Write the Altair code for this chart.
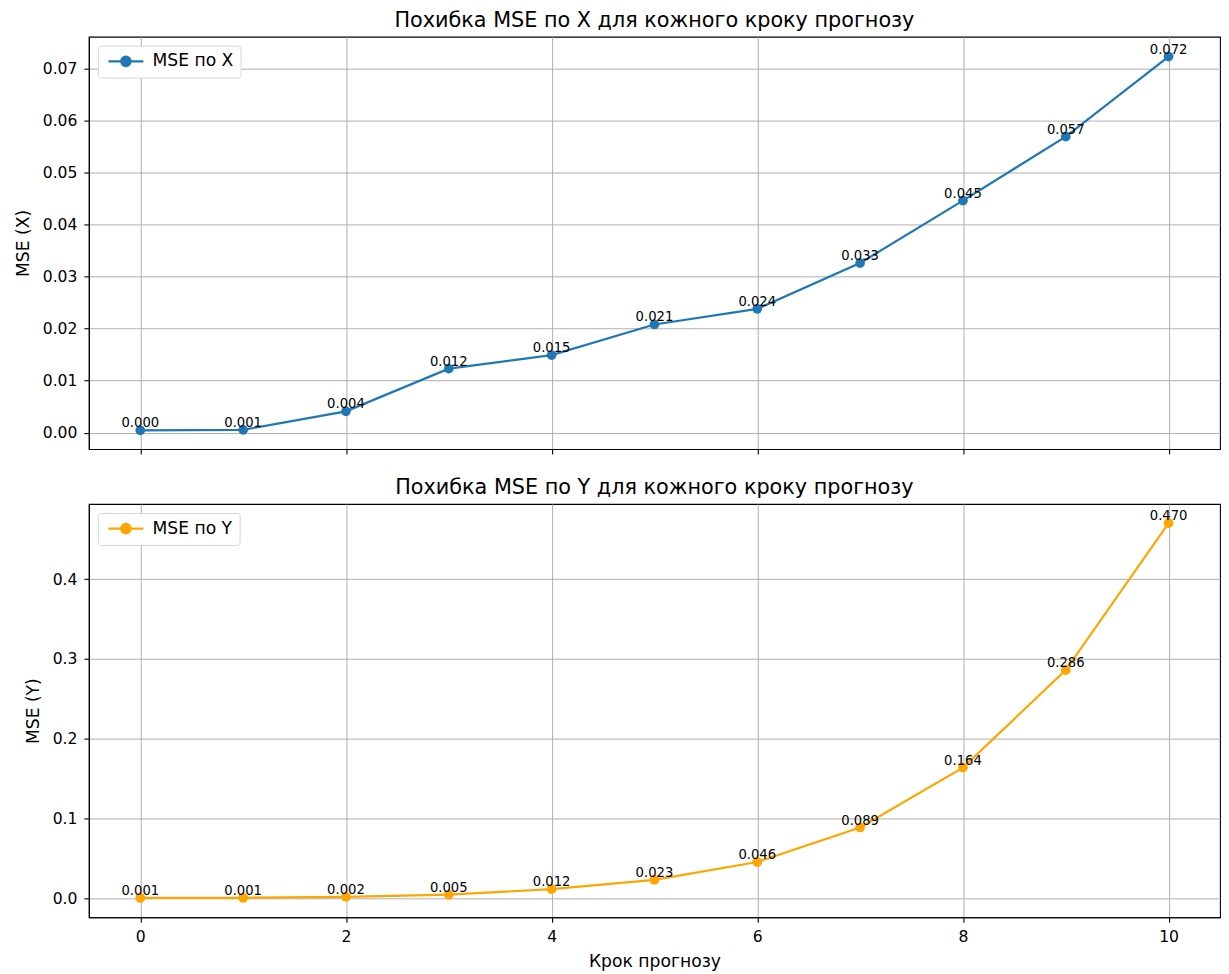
import altair as alt
import pandas as pd

steps = [0, 1, 2, 3, 4, 5, 6, 7, 8, 9, 10]
mse_x = [0.00045, 0.00055, 0.0041, 0.0123, 0.0149, 0.0208, 0.0238, 0.0326, 0.0446, 0.0569, 0.0723]
mse_y = [0.0008, 0.0010, 0.0022, 0.0050, 0.0118, 0.0234, 0.0458, 0.0890, 0.1640, 0.2860, 0.4700]

FONT = "DejaVu Sans"
legend_path = "M-3.5,0L3.5,0M-0.95,0A0.95,0.95,0,1,1,0.95,0A0.95,0.95,0,1,1,-0.95,0Z"

df_x = pd.DataFrame({"step": steps, "mse": mse_x, "series": "MSE по X"})
df_y = pd.DataFrame({"step": steps, "mse": mse_y, "series": "MSE по Y"})


def panel(df, color, title, ytitle, ydomain, yticks, yfmt, show_x_labels, h):
    xaxis = alt.Axis(
        values=[0, 2, 4, 6, 8, 10], format="d", labels=show_x_labels,
        title="Крок прогнозу" if show_x_labels else None,
        grid=True, labelPadding=7, titlePadding=8,
    )
    x = alt.X("step:Q", scale=alt.Scale(domain=[-0.5, 10.5], nice=False, zero=False), axis=xaxis)
    y = alt.Y("mse:Q", scale=alt.Scale(domain=ydomain, nice=False, zero=False),
              axis=alt.Axis(values=yticks, format=yfmt, title=ytitle, grid=True,
                            labelPadding=7, titlePadding=10))
    col = alt.Color("series:N", scale=alt.Scale(range=[color]),
                    legend=alt.Legend(title=None, orient="top-left", offset=9,
                                      symbolType=legend_path, symbolSize=100,
                                      symbolOffset=12.5,
                                      symbolStrokeWidth=2.2, symbolFillColor=color,
                                      symbolStrokeColor=color,
                                      labelFontSize=17.2, labelFont=FONT, labelColor="#000",
                                      labelOffset=18,
                                      fillColor="white", strokeColor="#d6d6d6",
                                      cornerRadius=3, padding=7))
    base = alt.Chart(df)
    line = base.mark_line(strokeWidth=2.2, color=color).encode(x=x, y=y, color=col)
    pts = base.mark_circle(size=95, opacity=1, color=color).encode(x=x, y=y, color=col)
    txt = base.mark_text(fontSize=13.2, font=FONT, color="#000", baseline="alphabetic",
                         align="center", dy=-3).encode(
        x=x, y=y, text=alt.Text("mse:Q", format=".3f"))
    return alt.layer(line, pts, txt).properties(
        width=1133, height=h,
        title=alt.TitleParams(title, fontSize=20.8, font=FONT, fontWeight="normal",
                              color="#000", anchor="middle", offset=5),
    )


top = panel(df_x, "#1f77b4", "Похибка MSE по X для кожного кроку прогнозу", "MSE (X)",
            [-0.00315, 0.0761], [0, 0.01, 0.02, 0.03, 0.04, 0.05, 0.06, 0.07], ".2f", False, 413)
bottom = panel(df_y, "#ffa500", "Похибка MSE по Y для кожного кроку прогнозу", "MSE (Y)",
               [-0.0234, 0.494], [0, 0.1, 0.2, 0.3, 0.4], ".1f", True, 414)

chart = alt.vconcat(top, bottom, spacing=20).resolve_scale(color="independent").configure(
    font=FONT,
    padding={"left": 5, "top": 0, "right": 0, "bottom": 0},
).configure_view(
    stroke="#000", strokeWidth=1.1,
).configure_axis(
    domainColor="#000", domainWidth=1.1, tickColor="#000", tickSize=5, tickWidth=1.1,
    gridColor="#b0b0b0", gridWidth=1, labelFont=FONT, labelFontSize=15.6,
    labelColor="#000", titleFont=FONT, titleFontSize=17.2, titleColor="#000",
    titleFontWeight="normal",
)

chart.save("out.html", embed_options={"renderer": "svg", "actions": False})
